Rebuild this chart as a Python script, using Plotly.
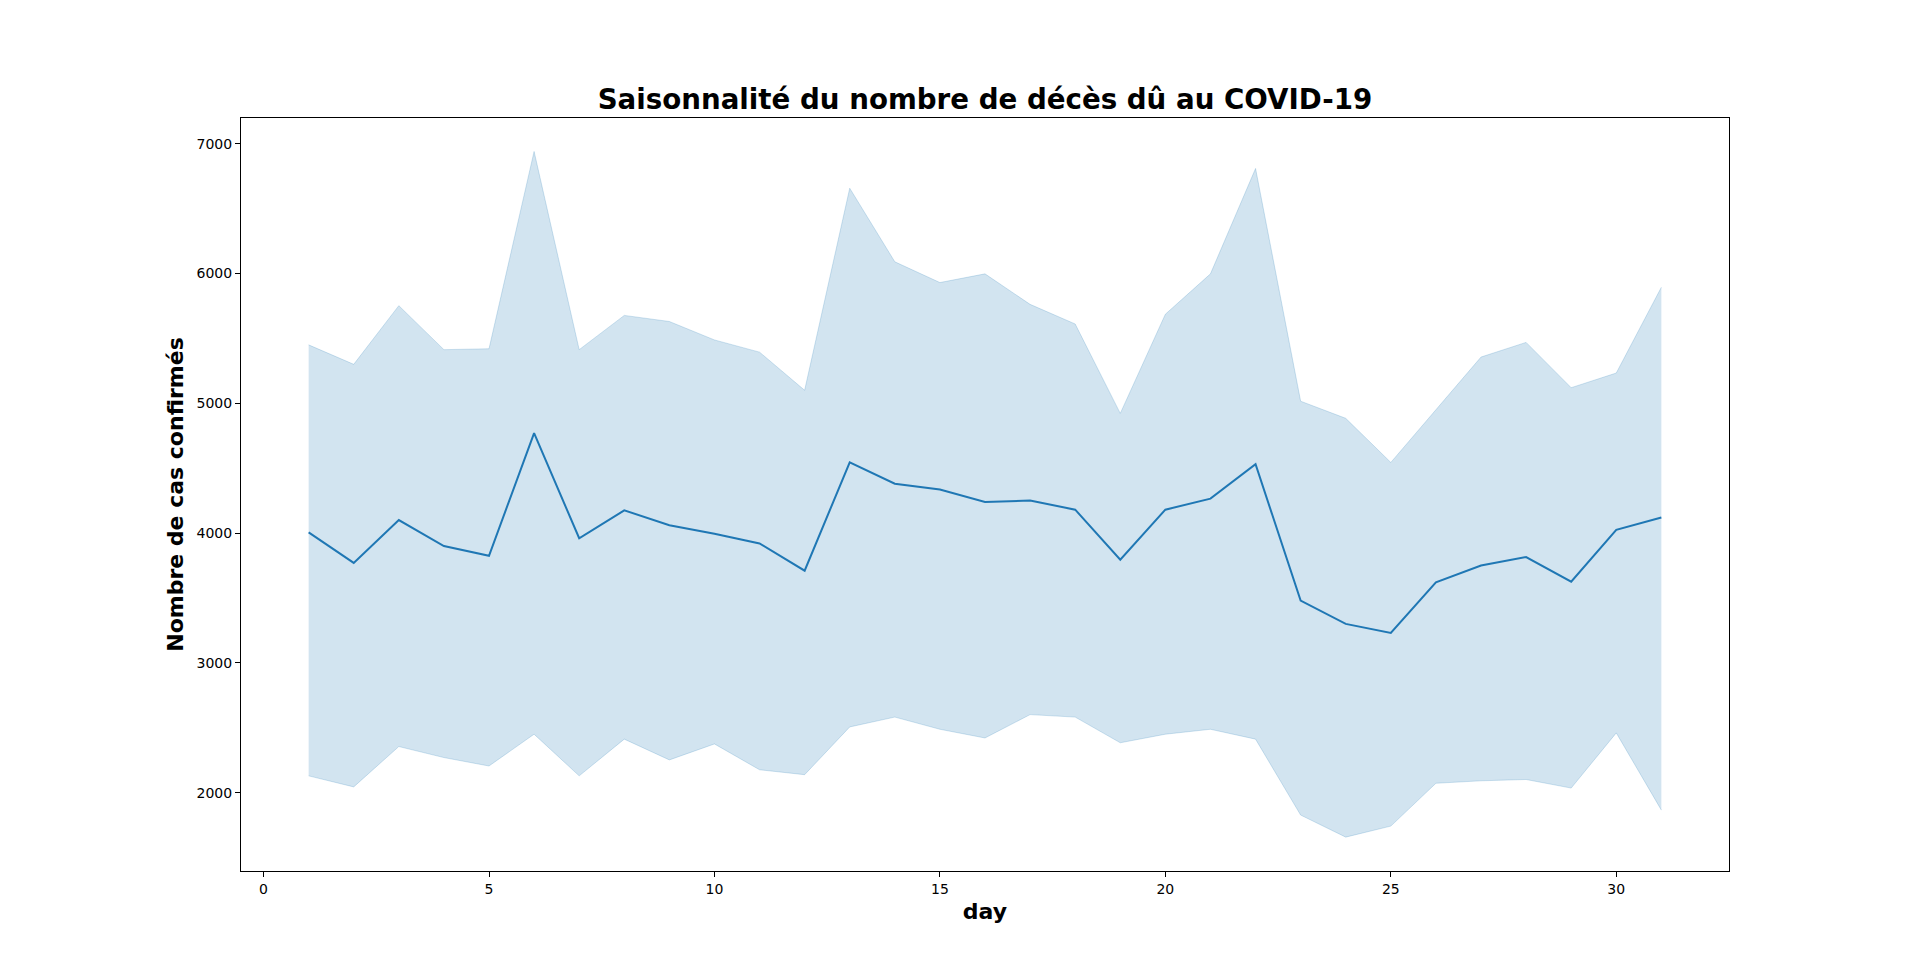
import plotly.graph_objects as go

days = list(range(1, 32))
mean_vals = [4005, 3770, 4100, 3900, 3825, 4770, 3960, 4175, 4060, 3995,
             3920, 3710, 4545, 4380, 4335, 4240, 4250, 4180, 3795, 4180,
             4265, 4530, 3480, 3300, 3230, 3620, 3750, 3815, 3625, 4025, 4120]
upper_vals = [5450, 5300, 5752, 5413, 5420, 6940, 5413, 5677, 5630, 5488,
              5394, 5100, 6657, 6090, 5930, 5997, 5762, 5611, 4922, 5686,
              5997, 6809, 5016, 4884, 4544, 4950, 5356, 5469, 5120, 5233, 5894]
lower_vals = [2129, 2044, 2355, 2270, 2205, 2450, 2129, 2412, 2252, 2375,
              2176, 2138, 2506, 2582, 2488, 2421, 2601, 2582, 2384, 2450,
              2488, 2412, 1827, 1657, 1742, 2072, 2091, 2101, 2035, 2460, 1865]

title_text = "Saisonnalité du nombre de décès dû au COVID-19"
x_label = "day"
y_label = "Nombre de cas confirmés"

band_color = "rgba(31,119,180,0.2)"
line_color = "#1f77b4"
font_family = "DejaVu Sans"

fig = go.Figure()
fig.add_trace(go.Scatter(x=days, y=upper_vals, mode="lines",
                         line=dict(color=band_color, width=1),
                         showlegend=False, hoverinfo="skip"))
fig.add_trace(go.Scatter(x=days, y=lower_vals, mode="lines",
                         line=dict(color=band_color, width=1),
                         fill="tonexty", fillcolor=band_color,
                         showlegend=False, hoverinfo="skip"))
fig.add_trace(go.Scatter(x=days, y=mean_vals, mode="lines",
                         line=dict(color=line_color, width=2),
                         showlegend=False))

axis_common = dict(
    showgrid=False, zeroline=False, showline=True, linecolor="black",
    linewidth=1, mirror=True, ticks="outside", ticklen=5, tickwidth=1,
    tickcolor="black", tickfont=dict(family=font_family, size=14, color="black"),
)

fig.update_layout(
    width=1920, height=977,
    margin=dict(l=233, r=199, t=110, b=114),
    paper_bgcolor="white", plot_bgcolor="white",
    font=dict(family=font_family, color="black"),
    title=dict(text="<b>" + title_text + "</b>", x=0.5, xref="paper",
               xanchor="center", y=1, yref="paper", yanchor="bottom",
               pad=dict(b=9), font=dict(family=font_family, size=27.7, color="black")),
    xaxis=dict(range=[-0.5, 32.5], tickmode="linear", tick0=0, dtick=5,
               title=dict(text="<b>" + x_label + "</b>", standoff=7,
                          font=dict(family=font_family, size=22, color="black")),
               **axis_common),
    yaxis=dict(range=[1396, 7198], tickmode="linear", tick0=0, dtick=1000,
               title=dict(text="<b>" + y_label + "</b>", standoff=6,
                          font=dict(family=font_family, size=22, color="black")),
               **axis_common),
)

fig.write_html("out.html")
